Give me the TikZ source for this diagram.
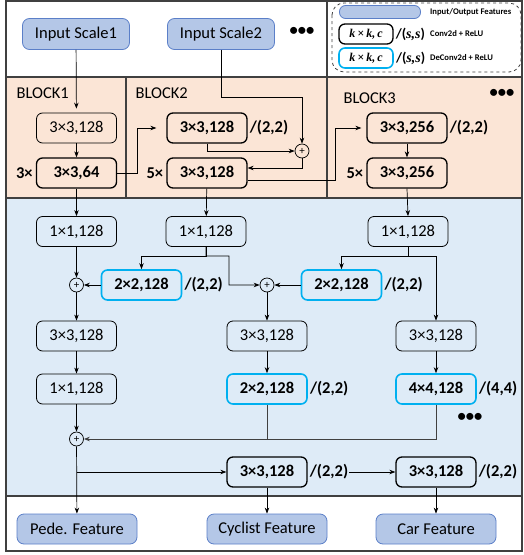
\documentclass[tikz,border=0pt]{standalone}
\usepackage{fontspec}
\setmainfont{Carlito}
\newfontfamily\lgserif{Liberation Serif}
\usepackage{tikz}
\usetikzlibrary{arrows.meta}
\usetikzlibrary{positioning}
\definecolor{peach}{HTML}{FBE5D6}
\definecolor{paleblue}{HTML}{DEEBF7}
\definecolor{featfill}{HTML}{B4C7E7}
\definecolor{featline}{HTML}{5B7FC8}
\definecolor{deconv}{HTML}{00B0F0}
\definecolor{framegray}{HTML}{404040}
\newcommand{\boxfont}{\fontsize{16.5}{18}\selectfont}

\begin{document}
\begin{tikzpicture}[x=1pt, y=-1pt,
	conv/.style={draw, rounded corners=6pt, minimum width=80pt, minimum height=30pt, inner sep=1pt, line width=0.8pt, font=\boxfont},
	bconv/.style={conv, line width=1.3pt, font=\boxfont\bfseries},
	dconv/.style={bconv, draw=deconv, line width=1.6pt},
	feat/.style={draw=featline, fill=featfill, rounded corners=7pt, minimum width=120pt, minimum height=30pt, line width=0.8pt, font=\boxfont},
	sum/.style={draw, circle, inner sep=0pt, minimum size=14pt, line width=0.7pt, font=\fontsize{11}{11}\selectfont},
	stride/.style={inner sep=1pt, font=\boxfont\bfseries},
	arr/.style={-{Stealth[length=6pt,width=4.5pt]}, line width=0.7pt},
	lgtext/.style={anchor=west, inner sep=0pt, font=\fontsize{8.6}{10}\selectfont\bfseries}]
	\useasboundingbox (0,0) rectangle (524,555);
	% regions
	\fill[peach] (6,77) rectangle (522,198);
	\fill[paleblue] (6,198) rectangle (522,496);
	\draw[framegray, line width=1.2pt] (6,1) rectangle (522,551);
	\draw[framegray, line width=1.2pt] (6,77) -- (522,77);
	\draw[framegray, line width=1.2pt] (6,198) -- (522,198);
	\draw[framegray, line width=1.2pt] (6,496) -- (522,496);
	\draw[framegray, line width=1.2pt] (126,77) -- (126,198);
	\draw[framegray, line width=1.2pt] (327,1) -- (327,198);
	
	% legend
	\draw[dashed, framegray, line width=0.8pt, rounded corners=12pt] (332,3) rectangle (521,72);
	\node[feat, minimum width=81pt, minimum height=13pt, rounded corners=6pt] (lgf) at (380,12) {};
	\node[conv, line width=1.3pt, minimum width=54pt, minimum height=20pt] (lgc) at (366,34) {\lgserif\bfseries\itshape\fontsize{12}{12}\selectfont k\,×\,k\/,\,c};
	\node[conv, draw=deconv, line width=1.6pt, minimum width=54pt, minimum height=20pt] (lgd) at (366,58) {\lgserif\bfseries\itshape\fontsize{12}{12}\selectfont k\,×\,k\/,\,c};
	\node[stride, right=1pt of lgc, font=\fontsize{14}{14}\selectfont\bfseries] (lgcs) {/({\lgserif\itshape s,s})};
	\node[stride, right=1pt of lgd, font=\fontsize{14}{14}\selectfont\bfseries] (lgds) {/({\lgserif\itshape s,s})};
	\node[lgtext] (lgft) at (430,12) {Input/Output Features};
	\node[lgtext] (lgct) at (430,34) {Conv2d + ReLU};
	\node[lgtext] (lgdt) at (430,58) {DeConv2d + ReLU};
	
	% inputs
	\node[feat, minimum width=107pt, minimum height=31pt] (in1) at (76,34) {Input Scale1};
	\node[feat, minimum width=107pt, minimum height=31pt] (in2) at (221,34) {Input Scale2};
	\node[font=\boxfont\bfseries] (dots1) at (302,31) {•••};
	
	% backbone blocks
	\node[anchor=west, font=\boxfont] (blk1) at (13,93) {BLOCK1};
	\node[anchor=west, font=\boxfont] (blk2) at (132,93) {BLOCK2};
	\node[anchor=west, font=\boxfont] (blk3) at (340,98) {BLOCK3};
	\node[font=\boxfont\bfseries] (dots2) at (502,93) {•••};
	
	\node[conv] (b1a) at (76.5,128) {3×3,128};
	\node[bconv] (b1b) at (76.5,173) {3×3,64};
	\node[stride, left=2pt of b1b] (b1n) {3×};
	
	\node[bconv] (b2a) at (207,128) {3×3,128};
	\node[stride, right=1pt of b2a] (b2s) {/(2,2)};
	\node[bconv] (b2b) at (207,173) {3×3,128};
	\node[stride, left=2pt of b2b] (b2n) {5×};
	\node[sum] (s2) at (302,151) {+};
	
	\node[bconv] (b3a) at (407,128) {3×3,256};
	\node[stride, right=1pt of b3a] (b3s) {/(2,2)};
	\node[bconv] (b3b) at (407,173) {3×3,256};
	\node[stride, left=2pt of b3b] (b3n) {5×};
	
	% head
	\node[conv] (c1a) at (76.5,231.5) {1×1,128};
	\node[conv] (c2a) at (206,231.5) {1×1,128};
	\node[conv] (c3a) at (408,231.5) {1×1,128};
	
	\node[sum] (p1) at (76.5,285) {+};
	\node[dconv] (d1) at (141.5,285) {2×2,128};
	\node[stride, right=1pt of d1] (d1s) {/(2,2)};
	\node[sum] (p2) at (267,285) {+};
	\node[dconv] (d2) at (341.5,285) {2×2,128};
	\node[stride, right=1pt of d2] (d2s) {/(2,2)};
	
	\node[conv] (c1b) at (76.5,336) {3×3,128};
	\node[conv] (c2b) at (267,336) {3×3,128};
	\node[conv] (c3b) at (436,336) {3×3,128};
	
	\node[conv] (c1c) at (76.5,389) {1×1,128};
	\node[dconv] (d3) at (267,389) {2×2,128};
	\node[stride, right=1pt of d3] (d3s) {/(2,2)};
	\node[dconv] (d4) at (436,389) {4×4,128};
	\node[stride, right=1pt of d4] (d4s) {/(4,4)};
	\node[font=\boxfont\bfseries] (dots3) at (470,417) {•••};
	
	\node[sum] (p3) at (76.5,439) {+};
	\node[bconv] (e2) at (267,472) {3×3,128};
	\node[stride, right=1pt of e2] (e2s) {/(2,2)};
	\node[bconv] (e3) at (436,472) {3×3,128};
	\node[stride, right=1pt of e3] (e3s) {/(2,2)};
	
	\node[feat] (o1) at (77,529) {Pede. Feature};
	\node[feat] (o2) at (267,529) {Cyclist Feature};
	\node[feat] (o3) at (436,529) {Car Feature};
	
	% connectors
	\draw[arr, shorten >=4pt] (in1) -- (b1a);
	\draw[arr] (b1a) -- (b1b);
	\draw[arr, shorten >=10pt] (b1b.east) -- ++(20,0) |- (b2a.west);
	\draw[arr] (in2.south) -- ++(0,47) -| (s2.north);
	\draw[arr] (b2a.south) |- (s2.west);
	\draw[arr] (s2.south) |- ([yshift=5pt]b2b.east);
	\draw[arr, shorten >=5pt] ([yshift=-7pt]b2b.east) -- ++(88,0) |- (b3a.west);
	\draw[arr] (b3a) -- (b3b);
	
	\draw[arr] (b1b) -- (c1a);
	\draw[arr] (b2b) -- (c2a);
	\draw[arr] (b3b.south) -- (c3a.north);
	\draw[arr] (c1a) -- (p1);
	\draw[arr] (d1) -- (p1);
	\draw[arr] (c2a.south) -- ++(0,9) -| (d1.north);
	\draw[arr] (c2a.south) -- ++(0,9) -| ++(23,29) -- (p2.west);
	\draw[arr] (c3a.south) -- ++(0,9) -| (d2.north);
	\draw[arr] (c3a.south) -- ++(0,9) -| (c3b.north);
	\draw[arr] (d2) -- (p2);
	\draw[arr] (p1) -- (c1b);
	\draw[arr] (p2) -- (c2b);
	\draw[arr] (c1b) -- (c1c);
	\draw[arr] (c2b) -- (d3);
	\draw[arr] (c3b) -- (d4);
	\draw[arr] (c1c) -- (p3);
	\draw[framegray, line width=1pt] (d3.south) -- (d3 |- p3);
	\draw[arr, framegray, line width=1pt] (d4.south) |- (p3.east);
	\draw[arr] (p3) -- (o1);
	\draw[arr] (p3.south |- e2) -- (e2.west);
	\draw[arr] (e2s) -- (e3);
	\draw[arr] (e2) -- (o2);
	\draw[arr] (e3) -- (o3);
\end{tikzpicture}
\end{document}
